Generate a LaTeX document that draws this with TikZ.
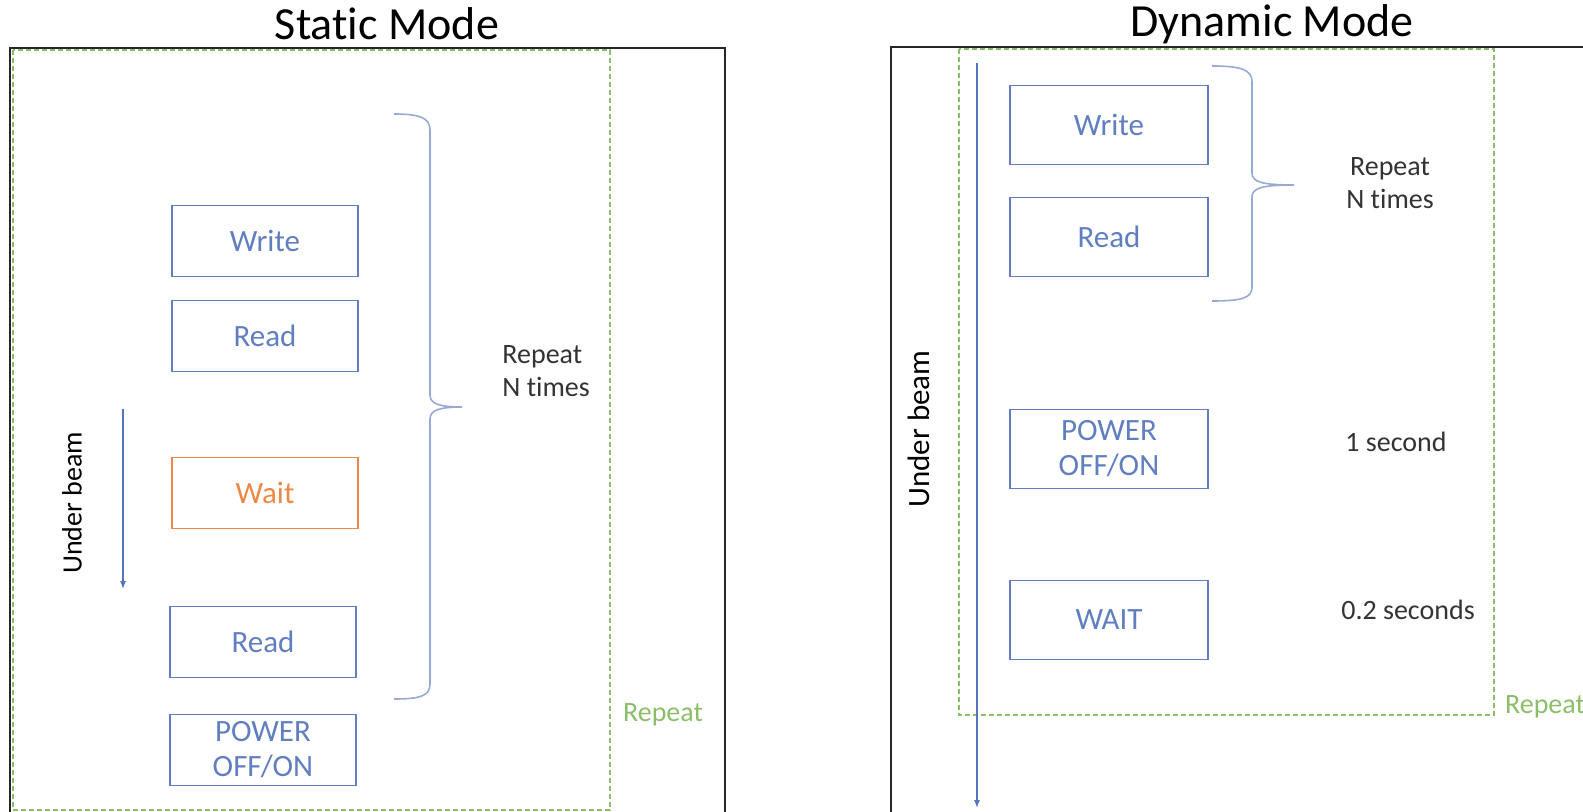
\documentclass[tikz,border=0pt]{standalone}
\usepackage{fontspec}
\setmainfont{Carlito}[Ligatures=NoCommon]
\usetikzlibrary{arrows.meta}

\definecolor{boxblue}{RGB}{96,126,192}
\definecolor{waitorange}{RGB}{237,136,72}
\definecolor{loopgreen}{RGB}{140,190,105}
\definecolor{bracegray}{RGB}{150,170,212}
\definecolor{beamblue}{RGB}{84,116,188}

\begin{document}
\begin{tikzpicture}
    [x=0.5pt, y=-0.5pt, inner sep=0pt,
     stepbox/.style={draw=boxblue, line width=0.9pt, text=boxblue, align=center,
                     font=\fontsize{15.5}{17.5}\selectfont},
     smallbox/.style={stepbox, minimum width=93pt, minimum height=35.5pt},
     widebox/.style={stepbox, minimum width=99pt, minimum height=39.5pt},
     note/.style={align=center, text=black!80, font=\fontsize{14}{16.5}\selectfont},
     title/.style={anchor=base, font=\fontsize{23}{26}\selectfont},
     looplabel/.style={text=loopgreen, font=\fontsize{14}{17}\selectfont},
     loopbox/.style={draw=loopgreen, line width=0.6pt, dash pattern=on 2.5pt off 1.5pt},
     frame/.style={draw=black!85, line width=1.1pt},
     brace/.style={draw=bracegray, line width=0.8pt},
     beam/.style={draw=beamblue, line width=0.6pt, -{Latex[length=4pt,width=3pt]}}]

    \useasboundingbox (0,0) rectangle (1583,812);

    % static mode frame:
    \node (stitle) at (387, 40) [title] {Static Mode};
    \draw [frame] (10, 48) rectangle (725, 840);
    \draw [loopbox] (13, 50) rectangle (610, 810);
    \node (srepeat) at (663, 715) [looplabel] {Repeat};

    % static mode steps:
    \node (swrite) at (265, 241) [smallbox] {Write};
    \node (sread1) at (265, 336) [smallbox] {Read};
    \node (swait) at (265, 493) [smallbox, draw=waitorange, text=waitorange] {Wait};
    \node (sread2) at (263, 642) [smallbox] {Read};
    \node (spower) at (263, 750) [smallbox] {POWER\\OFF/ON};

    % static mode brace:
    \draw [brace] (394, 114) .. controls (420, 114) and (430, 118) .. (430, 130)
        -- (430, 395) .. controls (430, 404) and (440, 407) .. (462, 407)
        .. controls (440, 407) and (430, 410) .. (430, 419)
        -- (430, 684) .. controls (430, 696) and (420, 699) .. (394, 699);
    \node (sntimes) at (502, 371) [note, anchor=west, align=left] {Repeat\\N times};

    % static mode beam:
    \node (sbeam) at (72, 503) [rotate=90, font=\fontsize{14}{17}\selectfont] {Under beam};
    \coordinate (sbeamtop) at (123, 409);
    \coordinate (sbeamend) at (123, 589);
    \draw [beam] (sbeamtop) -- (sbeamend);

    % dynamic mode frame:
    \node (dtitle) at (1272, 37) [title] {Dynamic Mode};
    \draw [frame] (891, 47) rectangle (1620, 840);
    \draw [loopbox] (959, 49) rectangle (1494, 715);
    \node (drepeat) at (1545, 707) [looplabel] {Repeat};

    % dynamic mode steps:
    \node (dwrite) at (1109, 125) [widebox] {Write};
    \node (dread) at (1109, 237) [widebox] {Read};
    \node (dpower) at (1109, 449) [widebox] {POWER\\OFF/ON};
    \node (dwait) at (1109, 620) [widebox] {WAIT};

    % dynamic mode brace:
    \draw [brace] (1212, 66) .. controls (1242, 66) and (1252, 70) .. (1252, 82)
        -- (1252, 173) .. controls (1252, 182) and (1262, 185) .. (1294, 185)
        .. controls (1262, 185) and (1252, 188) .. (1252, 197)
        -- (1252, 287) .. controls (1252, 298) and (1242, 301) .. (1212, 301);
    \node (dntimes) at (1390, 183) [note] {Repeat\\N times};
    \node (dsecond) at (1396, 442) [note] {1 second};
    \node (dfifth) at (1408, 610) [note] {0.2 seconds};

    % dynamic mode beam:
    \node (dbeam) at (919, 429) [rotate=90, font=\fontsize{15.5}{17}\selectfont] {Under beam};
    \coordinate (dbeamtop) at (977, 63);
    \coordinate (dbeamend) at (977, 808);
    \draw [beam] (dbeamtop) -- (dbeamend);

\end{tikzpicture}
\end{document}
